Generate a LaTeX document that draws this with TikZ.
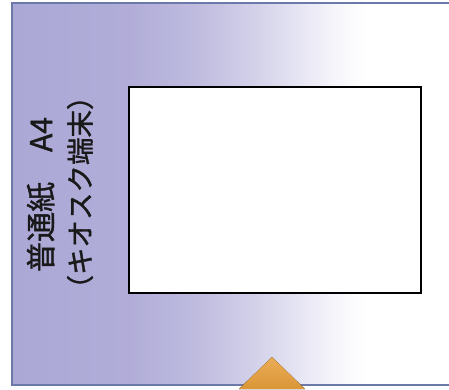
\documentclass[tikz,border=0pt]{standalone}
\usepackage{fontspec}
\newfontfamily\jpfont[FakeBold=1.3]{Noto Sans CJK JP}
\usetikzlibrary{positioning}
\definecolor{lavender}{RGB}{172,168,214}
\definecolor{frameblue}{RGB}{108,120,170}
\definecolor{pointer}{RGB}{230,158,58}
\pgfdeclarehorizontalshading{fade}{100bp}{color(0bp)=(lavender); color(25bp)=(lavender); color(38bp)=(lavender!94!white); color(45bp)=(lavender!78!white); color(51bp)=(lavender!55!white); color(55.5bp)=(lavender!34!white); color(60bp)=(lavender!12!white); color(63.5bp)=(white); color(100bp)=(white)}

\begin{document}
\begin{tikzpicture}[x=1pt ,y=-1pt ,
frame/.style ={draw=frameblue ,line width=1.5pt ,shading=fade},
paper/.style ={rectangle ,draw=black ,fill=white ,line width=1.8pt ,
minimum width=292pt ,minimum height=206pt ,inner sep=0pt},
caption/.style ={rotate=90 ,inner sep=0pt ,text=black!90},
tip/.style ={top color=pointer!85!white ,bottom color=pointer!95!black}
]
\useasboundingbox (0,0) rectangle (449,389);
\clip (0,0) rectangle (449,389);
\fill[white] (0,0) rectangle (449,389);
\path[frame] (12,3) rectangle (470,385);
\node[paper] (sheet) at (275,190) {};
\node[caption ,font=\jpfont\fontsize{30}{34}\selectfont] (plain) at (41,194.5) {普通紙　A4};
\node[caption ,font=\jpfont\fontsize{27.5}{32}\selectfont] (kiosk) at (80,192.5) {（キオスク端末）};
\coordinate (apex) at (272,357);
\fill[tip] (apex) -- (305,389) -- (239,389) -- cycle;
\end{tikzpicture}
\end{document}
